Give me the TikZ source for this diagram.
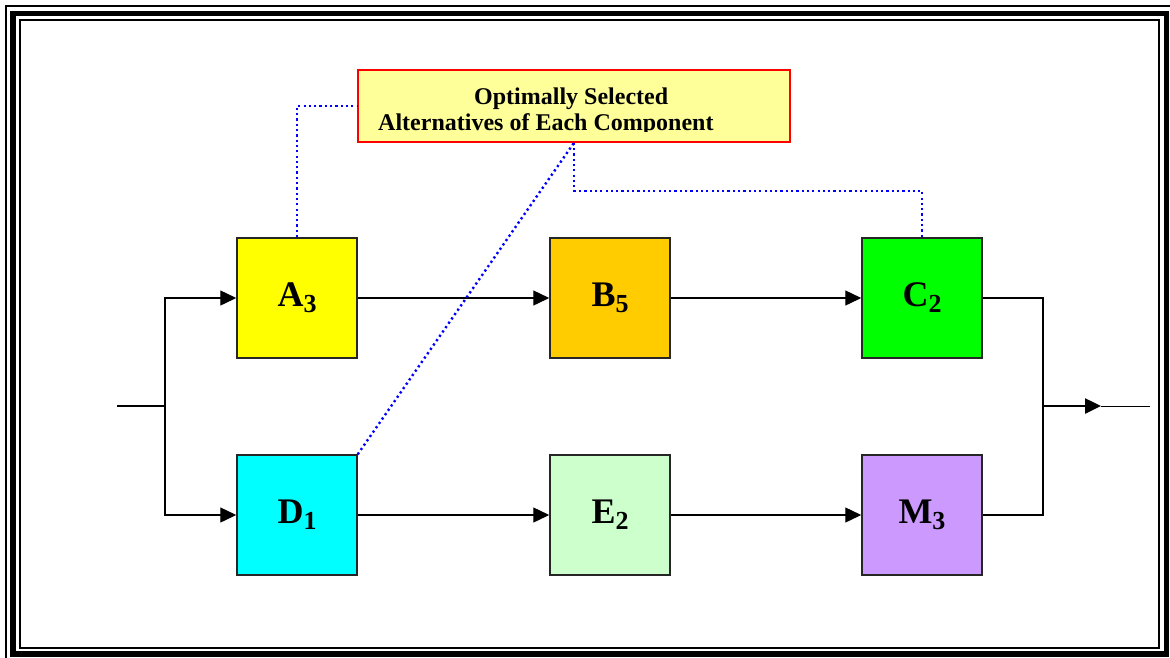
\documentclass[tikz,border=0pt]{standalone}
\usepackage{fontspec}
\setmainfont{Liberation Serif}
\usetikzlibrary{arrows.meta}
\definecolor{cA}{HTML}{FFFF00}
\definecolor{cB}{HTML}{FFCC00}
\definecolor{cC}{HTML}{00FF00}
\definecolor{cD}{HTML}{00FFFF}
\definecolor{cE}{HTML}{CCFFCC}
\definecolor{cM}{HTML}{CC99FF}
\definecolor{cCall}{HTML}{FFFF99}
\newcommand\boxlbl[2]{#1\raisebox{-6pt}{\fontsize{26}{26}\selectfont #2}}
\begin{document}
\begin{tikzpicture}[x=1pt,y=-1pt,
  blk/.style={draw=black!85, line width=1.5pt, minimum width=120pt, minimum height=120pt, inner sep=0pt,
    font=\fontsize{36}{40}\selectfont\bfseries},
  flow/.style={line width=1.4pt, -{Triangle[length=16pt,width=15pt]}},
  wire/.style={line width=1.4pt},
  link/.style={blue, line width=2.4pt, dash pattern=on 2.2pt off 3.1pt},
  calltxt/.style={anchor=base west, inner sep=0pt, font=\fontsize{24}{26}\selectfont\bfseries}]
\useasboundingbox (0,0) rectangle (1170,657);
% frame
\draw[line width=1.5pt] (6,6) rectangle (1178,664);
\draw[line width=5.5pt] (13,13.5) rectangle (1166.5,654);
\draw[line width=2pt] (20,20) rectangle (1159,648);
% blocks
\node[blk, fill=cA] (A) at (297,298) {\boxlbl{A}{3}};
\node[blk, fill=cB] (B) at (610,298) {\boxlbl{B}{5}};
\node[blk, fill=cC] (C) at (922,298) {\boxlbl{C}{2}};
\node[blk, fill=cD] (D) at (297,515) {\boxlbl{D}{1}};
\node[blk, fill=cE] (E) at (610,515) {\boxlbl{E}{2}};
\node[blk, fill=cM] (M) at (922,515) {\boxlbl{M}{3}};
% callout
\node[draw=red, line width=1.5pt, fill=cCall, minimum width=432pt, minimum height=72pt, inner sep=0pt] (call) at (574,106) {};
\begin{scope}
\clip (358,70) rectangle (790,131.5);
\node[calltxt] (t1) at (474,104) {Optimally Selected};
\node[calltxt] (t2) at (378,130) {Alternatives of Each Component};
\end{scope}
% coordinates
\coordinate (in) at (117,406);
\coordinate (split) at (165,406);
\coordinate (join) at (1043,406);
\coordinate (tip) at (1101,406);
\coordinate (out) at (1150,406);
% flow
\draw[wire] (in) -- (split);
\draw[flow] (split) |- (A.west);
\draw[flow] (split) |- (D.west);
\draw[flow] (A) -- (B);
\draw[flow] (B) -- (C);
\draw[flow] (D) -- (E);
\draw[flow] (E) -- (M);
\draw[wire] (C.east) -| (join);
\draw[wire] (M.east) -| (join);
\draw[line width=2.5pt, -{Triangle[length=16pt,width=15pt]}] (join) -- (tip);
\draw[line width=1pt] (tip) -- (out);
% dotted links
\draw[link] (A.north) |- (call.west);
\draw[link] (D.north east) -- (call.south);
\draw[link] (call.south) -- ++(0,48) -| (C.north);
\end{tikzpicture}
\end{document}
